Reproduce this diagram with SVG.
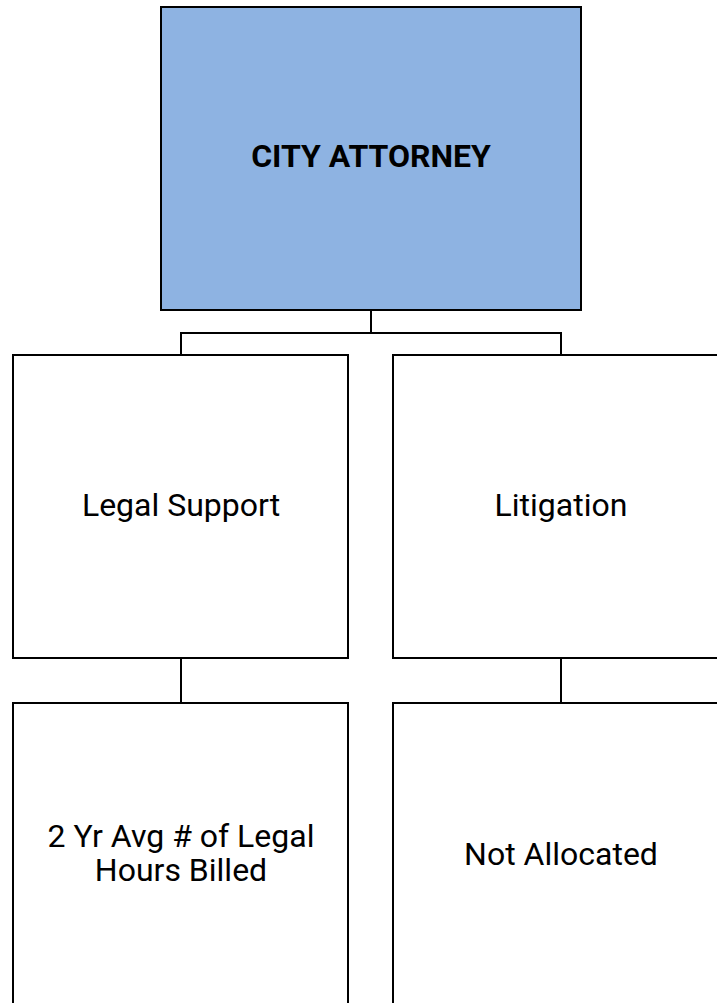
<svg xmlns="http://www.w3.org/2000/svg" width="717" height="1003" viewBox="0 0 717 1003">
<style>
.box{fill:#ffffff;stroke:#000000;stroke-width:2}
.top{fill:#8eb3e2;stroke:#000000;stroke-width:2}
.t{font-family:Roboto,"Liberation Sans",sans-serif;font-size:32px;fill:#000000;text-anchor:middle}
.b{font-weight:bold}
.c{fill:none;stroke:#000000;stroke-width:2}
</style>
<rect width="717" height="1003" fill="#ffffff"/>
<g id="connectors">
<path class="c" d="M371 310V333M181 355V333H561V355"/>
<path class="c" d="M181 658V703"/>
<path class="c" d="M561 658V703"/>
</g>
<g id="city-attorney">
<rect class="top" x="161" y="7" width="420" height="303"/>
<text class="t b" x="371" y="167">CITY ATTORNEY</text>
</g>
<g id="legal-support">
<rect class="box" x="13" y="355" width="335" height="303"/>
<text class="t" x="181" y="516">Legal Support</text>
</g>
<g id="litigation">
<rect class="box" x="393" y="355" width="335" height="303"/>
<text class="t" x="561" y="516">Litigation</text>
</g>
<g id="hours-billed">
<rect class="box" x="13" y="703" width="335" height="310"/>
<text class="t" x="181" y="847">2 Yr Avg # of Legal</text>
<text class="t" x="181" y="881">Hours Billed</text>
</g>
<g id="not-allocated">
<rect class="box" x="393" y="703" width="335" height="310"/>
<text class="t" x="561" y="865">Not Allocated</text>
</g>
</svg>
